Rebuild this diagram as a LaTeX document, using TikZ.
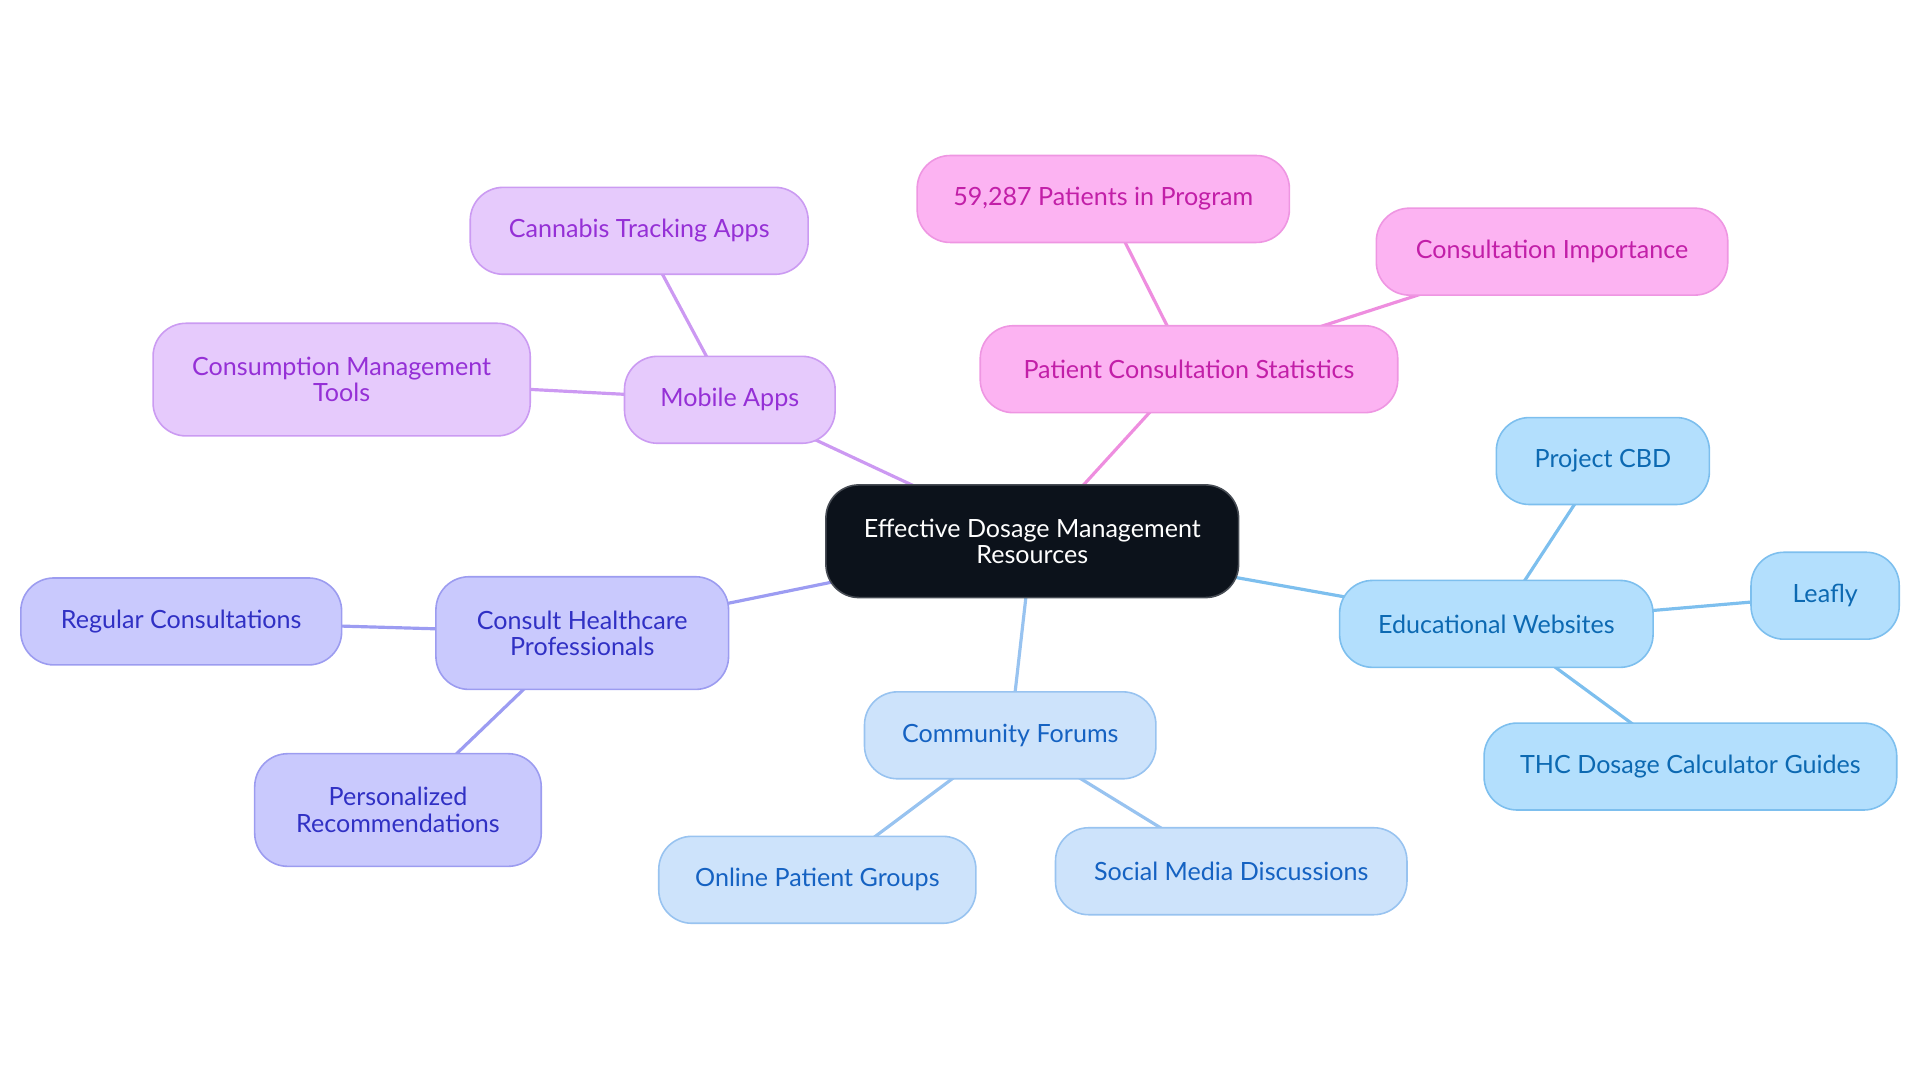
\documentclass[tikz,border=0pt]{standalone}
\usepackage{fontspec}
\setmainfont{Lato}
\usetikzlibrary{backgrounds}
\definecolor{cenfill}{HTML}{0C121B}
\definecolor{cendraw}{HTML}{474C54}
\definecolor{pkfill}{HTML}{FCB3F2}
\definecolor{pkdraw}{HTML}{EE96E2}
\definecolor{pktext}{HTML}{C21FA8}
\definecolor{pkline}{HTML}{EE8EDF}
\definecolor{pufill}{HTML}{E6CAFC}
\definecolor{pudraw}{HTML}{CB9BF2}
\definecolor{putext}{HTML}{9530D6}
\definecolor{puline}{HTML}{CC99F2}
\definecolor{infill}{HTML}{C9C9FD}
\definecolor{indraw}{HTML}{9C9CF0}
\definecolor{intext}{HTML}{3030C4}
\definecolor{inlinec}{HTML}{9C9CF2}
\definecolor{cofill}{HTML}{CDE3FB}
\definecolor{codraw}{HTML}{98C3F0}
\definecolor{cotext}{HTML}{1562C2}
\definecolor{coline}{HTML}{98C3F0}
\definecolor{edfill}{HTML}{B3DFFD}
\definecolor{eddraw}{HTML}{7DBFEE}
\definecolor{edtext}{HTML}{0C69B2}
\definecolor{edline}{HTML}{7DBFEE}
\tikzset{
  x=1pt, y=-1pt,
  box/.style={rounded corners=27pt, line width=1.3pt, align=center,
    font=\fontsize{20.5}{21.5}\selectfont, inner sep=0pt, minimum height=71pt},
  tall/.style={minimum height=92pt},
  cen/.style={box, tall, fill=cenfill, draw=cendraw, text=white},
  pkbox/.style={box, fill=pkfill, draw=pkdraw, text=pktext},
  pubox/.style={box, fill=pufill, draw=pudraw, text=putext},
  inbox/.style={box, fill=infill, draw=indraw, text=intext},
  cobox/.style={box, fill=cofill, draw=codraw, text=cotext},
  edbox/.style={box, fill=edfill, draw=eddraw, text=edtext},
  link/.style={line width=2.6pt},
}
\begin{document}
\begin{tikzpicture}
\useasboundingbox (0,0) rectangle (1568,884);
% central
\node[cen, minimum width=337pt] (c) at (843,442) {Effective Dosage Management\\Resources};
% pink
\node[pkbox, minimum width=341pt] (pcs) at (971,301.5) {Patient Consultation Statistics};
\node[pkbox, minimum width=304pt] (pat) at (901,162.5) {59,287 Patients in Program};
\node[pkbox, minimum width=287pt] (imp) at (1267.5,205.5) {Consultation Importance};
% purple
\node[pubox, minimum width=172pt] (mob) at (596,326.5) {Mobile Apps};
\node[pubox, minimum width=276pt] (trk) at (522,188.5) {Cannabis Tracking Apps};
\node[pubox, tall, minimum width=308pt] (tool) at (279,310) {Consumption Management\\Tools};
% indigo
\node[inbox, tall, minimum width=239pt] (hc) at (475.5,517) {Consult Healthcare\\Professionals};
\node[inbox, minimum width=262pt] (reg) at (148,507.5) {Regular Consultations};
\node[inbox, tall, minimum width=234pt] (pers) at (325,661.5) {Personalized\\Recommendations};
% community
\node[cobox, minimum width=238pt] (com) at (825,600.5) {Community Forums};
\node[cobox, minimum width=259pt] (onl) at (667.5,718.5) {Online Patient Groups};
\node[cobox, minimum width=287pt] (soc) at (1005.5,711.5) {Social Media Discussions};
% educational
\node[edbox, minimum width=256pt] (edu) at (1222,509.5) {Educational Websites};
\node[edbox, minimum width=174pt] (cbd) at (1309,376.5) {Project CBD};
\node[edbox, minimum width=121pt] (lfy) at (1490.5,486.5) {Leafly};
\node[edbox, minimum width=337pt] (thc) at (1380.5,626) {THC Dosage Calculator Guides};
\begin{scope}[on background layer]
\draw[link, pkline] (c.center) -- (pcs.center);
\draw[link, pkline] (pcs.center) -- (pat.center);
\draw[link, pkline] (pcs.center) -- (imp.center);
\draw[link, puline] (c.center) -- (mob.center);
\draw[link, puline] (mob.center) -- (trk.center);
\draw[link, puline] (mob.center) -- (tool.center);
\draw[link, inlinec] (c.center) -- (hc.center);
\draw[link, inlinec] (hc.center) -- (reg.center);
\draw[link, inlinec] (hc.center) -- (pers.center);
\draw[link, coline] (c.center) -- (com.center);
\draw[link, coline] (com.center) -- (onl.center);
\draw[link, coline] (com.center) -- (soc.center);
\draw[link, edline] (c.center) -- (edu.center);
\draw[link, edline] (edu.center) -- (cbd.center);
\draw[link, edline] (edu.center) -- (lfy.center);
\draw[link, edline] (edu.center) -- (thc.center);
\end{scope}
\end{tikzpicture}
\end{document}
